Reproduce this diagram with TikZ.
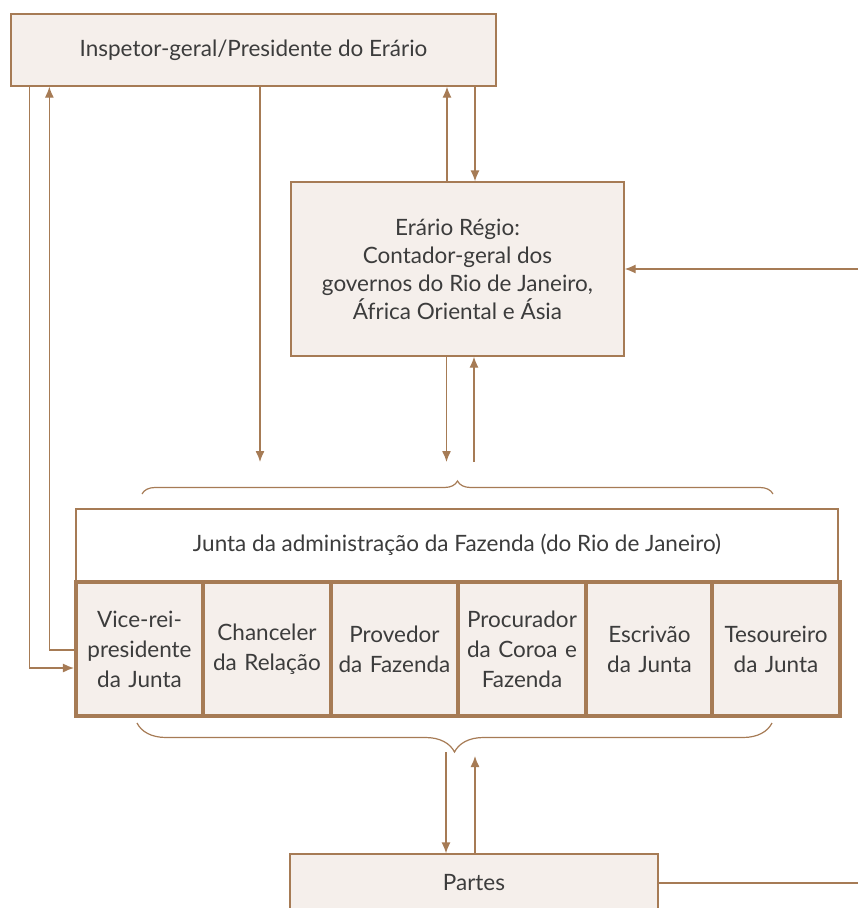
\documentclass[tikz,border=0pt]{standalone}
\usepackage{fontspec}
\setmainfont{Lato}
\usetikzlibrary{arrows.meta,decorations.pathreplacing,calc}
\definecolor{bronze}{HTML}{A67B55}
\definecolor{pale}{HTML}{F5EFEB}
\definecolor{ink}{HTML}{3C3C3C}
\tikzset{
  box/.style={draw=bronze, fill=pale, line width=1.3pt, text=ink, align=center,
    inner sep=0pt, font=\fontsize{22.5}{28}\selectfont},
  cell/.style={box, line width=3.6pt, minimum width=127.5pt, minimum height=134pt,
    text width=124pt, font=\fontsize{22.5}{30}\selectfont},
  link/.style={draw=bronze, line width=1.3pt, -{Latex[length=11pt,width=9pt]}},
  curly/.style={draw=bronze, line width=1.2pt, decorate, decoration={brace, amplitude=#1}}
}

\begin{document}
\begin{tikzpicture}[x=1pt, y=-1pt]
    \useasboundingbox (0,0) rectangle (858,908);
    \draw
    (253.5,50) node[box, minimum width=485, minimum height=72] (inspetor)
      {Inspetor-geral/Presidente do Erário}
    (457.5,269) node[box, minimum width=333, minimum height=174] (erario)
      {Erário Régio:\\Contador-geral dos\\governos do Rio de Janeiro,\\África Oriental e Ásia}
    (457,545) node[box, fill=white, minimum width=762, minimum height=72] (junta)
      {Junta da administração da Fazenda (do Rio de Janeiro)}
    (474,883) node[box, minimum width=368, minimum height=58] (partes) {Partes};
    \foreach \cx/\name/\txt in {139.5/vice/{Vice-rei-\\presidente\\da Junta},
        267/chanceler/{Chanceler\\da Relação},
        394.5/provedor/{Provedor\\da Fazenda},
        522/procurador/{Procurador\\da Coroa e\\Fazenda},
        649.5/escrivao/{Escrivão\\da Junta},
        776/tesoureiro/{Tesoureiro\\da Junta}}
      \node[cell] (\name) at (\cx,649) {\txt};
    \coordinate (jtop) at (458,462);
    \coordinate (jbot) at (460,752);
    \draw[curly=13pt] (142,494) -- (773,494);
    \draw[curly=29pt] (772,723) -- (137,723);
    % up from the Junta to the president and back
    \draw[link] ([xshift=19pt]inspetor.south west) |- ([yshift=-19pt]vice.west);
    \draw[link] ([yshift=-1pt]vice.west) -| ([xshift=39pt]inspetor.south west);
    \draw[link] (inspetor.south -| 260,0) -- (jtop -| 260,0);
    % president and the Erario
    \draw[link] ([xshift=-10.5pt]erario.north) -- ([xshift=-10.5pt]erario.north |- inspetor.south);
    \draw[link] ([xshift=17.5pt]erario.north |- inspetor.south) -- ([xshift=17.5pt]erario.north);
    \draw[link] ([xshift=-11pt]erario.south) -- ([xshift=-11pt]erario.south |- jtop);
    \draw[link] ([xshift=16.5pt]erario.south |- jtop) -- ([xshift=16.5pt]erario.south);
    % the parties
    \draw[link] ([xshift=-14pt]jbot) -- ([xshift=-28pt]partes.north);
    \draw[link] ([xshift=1pt]partes.north) -- ([xshift=15pt,yshift=-4pt]jbot);
    \draw[link] (partes.east) -- ++(240,0) |- (erario.east);
  \end{tikzpicture}
\end{document}
